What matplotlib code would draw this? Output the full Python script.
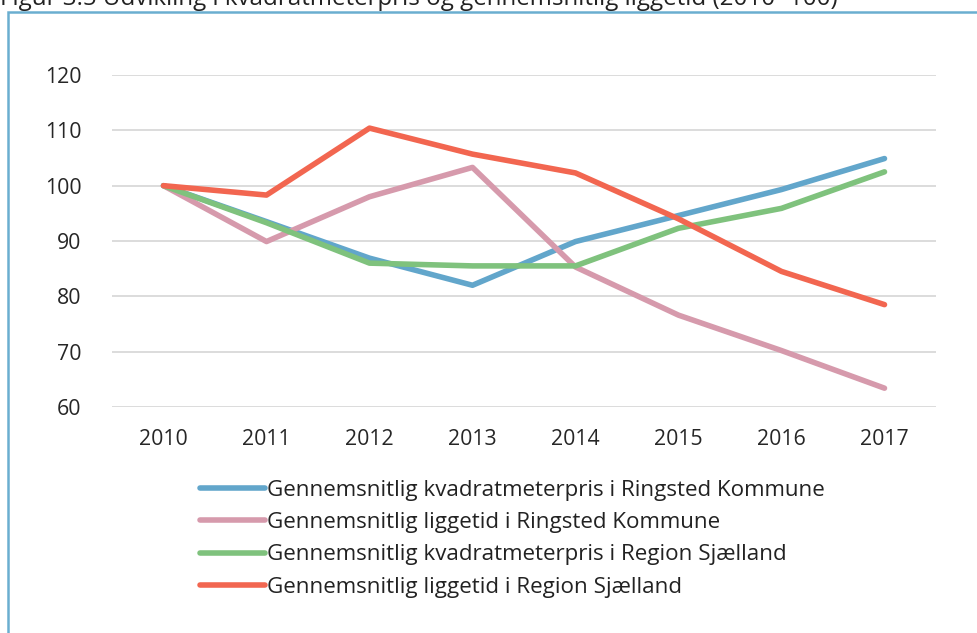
import matplotlib.pyplot as plt
from matplotlib.patches import Rectangle

plt.rcParams['font.family'] = ['Open Sans', 'DejaVu Sans']

years = ['2010', '2011', '2012', '2013', '2014', '2015', '2016', '2017']
pris_ringsted = [100, 93.5, 86.9, 82.0, 89.9, 94.6, 99.3, 104.9]
ligge_ringsted = [100, 89.9, 98.0, 103.3, 85.3, 76.6, 70.2, 63.4]
pris_region = [100, 93.3, 86.0, 85.5, 85.5, 92.3, 95.9, 102.5]
ligge_region = [100, 98.3, 110.4, 105.7, 102.3, 94.0, 84.5, 78.5]

labels = ['Gennemsnitlig kvadratmeterpris i Ringsted Kommune',
          'Gennemsnitlig liggetid i Ringsted Kommune',
          'Gennemsnitlig kvadratmeterpris i Region Sjælland',
          'Gennemsnitlig liggetid i Region Sjælland']
colors = ['#62a6cb', '#d69aac', '#7fc27d', '#f26650']
series = [pris_ringsted, ligge_ringsted, pris_region, ligge_region]

fig = plt.figure(figsize=(9.77, 6.33), dpi=100)

# outer frame (left/top edges visible, rest runs off the figure)
fig.patches.append(Rectangle((8 / 977, -0.05), 1.0, 1 - 12 / 633 + 0.05,
                             transform=fig.transFigure, fill=False,
                             edgecolor='#6aaed0', linewidth=1.8))

# title, cut off at the top like the reference
fig.text(0, 1 - 5 / 633, 'Figur 3.5 Udvikling i kvadratmeterpris og gennemsnitlig liggetid (2010=100)',
         fontsize=17.4, color='#222222', ha='left', va='baseline')

ax = fig.add_axes([112 / 977, 1 - 407 / 633, (936 - 112) / 977, (407 - 75) / 633])
x = range(len(years))
for vals, lab, c in zip(series, labels, colors):
    ax.plot(x, vals, color=c, linewidth=4, label=lab, solid_capstyle='round')

ax.set_ylim(60, 120)
ax.set_yticks(range(60, 121, 10))
ax.set_xlim(-0.5, 7.5)
ax.set_xticks(list(x))
ax.set_xticklabels(years)
ax.grid(axis='y', color='#d9d9d9', linewidth=1.3)
ax.set_axisbelow(True)
for s in ax.spines.values():
    s.set_visible(False)
ax.tick_params(length=0, labelsize=15.3, labelcolor='#262626')
ax.tick_params(axis='y', pad=22)
ax.tick_params(axis='x', pad=16)

leg = fig.legend(loc='upper left', bbox_to_anchor=(200 / 977, 1 - 480 / 633),
                 frameon=False, fontsize=16.1, handlelength=2.9, handletextpad=0.1,
                 labelspacing=0.5, borderaxespad=0, borderpad=0)
for t in leg.get_texts():
    t.set_color('#222222')

plt.savefig('out.png', dpi=100)
